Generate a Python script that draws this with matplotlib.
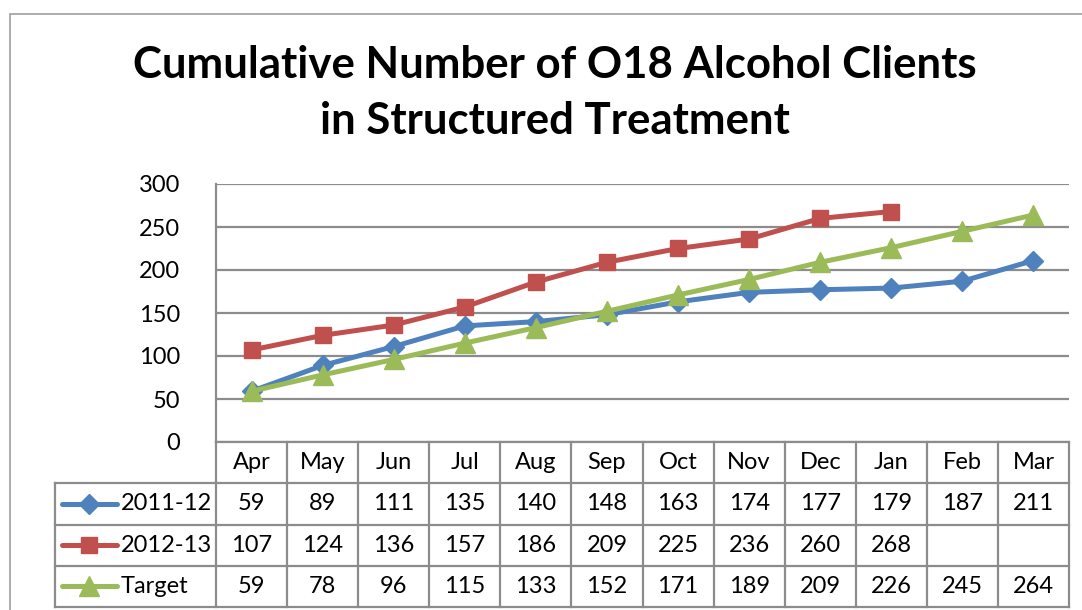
import numpy as np
from matplotlib import pyplot as plt
from matplotlib.patches import Rectangle

plt.rcParams['font.family'] = ['Lato', 'DejaVu Sans']

months = ['Apr', 'May', 'Jun', 'Jul', 'Aug', 'Sep', 'Oct', 'Nov', 'Dec', 'Jan', 'Feb', 'Mar']
series_names = ['2011-12', '2012-13', 'Target']
clients_2011 = [59, 89, 111, 135, 140, 148, 163, 174, 177, 179, 187, 211]
clients_2012 = [107, 124, 136, 157, 186, 209, 225, 236, 260, 268, None, None]
target = [59, 78, 96, 115, 133, 152, 171, 189, 209, 226, 245, 264]

colors = ['#4F81BD', '#C0504D', '#9BBB59']
markers = ['D', 's', '^']
msizes = [10, 12, 14]
grid_col = '#8c8c8c'

W, H = 1082, 610
fig = plt.figure(figsize=(W / 100, H / 100), dpi=100)

# outer chart frame (runs off the right / bottom edge like the screenshot)
fig.add_artist(Rectangle((10 / W, -0.1), 1.2, 1 - 14 / H + 0.1, transform=fig.transFigure,
                         fill=False, ec='#a6a6a6', lw=1.3))

fig.text(555 / W, 1 - 45 / H, 'Cumulative Number of O18 Alcohol Clients\nin Structured Treatment',
         ha='center', va='top', fontsize=31.5, fontweight='bold', linespacing=1.5)

# plot area
ax = fig.add_axes([216 / W, 1 - 442 / H, (1069 - 216) / W, (442 - 184) / H])
x = np.arange(len(months))
all_series = [clients_2011, clients_2012, target]
for vals, c, m, ms in zip(all_series, colors, markers, msizes):
    y = np.array([np.nan if v is None else v for v in vals], dtype=float)
    ax.plot(x, y, color=c, lw=3.6, marker=m, ms=ms, mfc=c, mec=c, zorder=3)

ax.set_xlim(-0.5, len(months) - 0.5)
ax.set_ylim(0, 300)
ax.set_yticks(range(0, 301, 50))
ax.set_xticks([])
ax.yaxis.grid(True, color=grid_col, lw=1.6)
ax.set_axisbelow(True)
for s in ['top', 'right']:
    ax.spines[s].set_visible(False)
for s in ['left', 'bottom']:
    ax.spines[s].set_color(grid_col)
    ax.spines[s].set_linewidth(1.6)
ax.tick_params(axis='y', length=0, pad=26, labelsize=17)

# data table under the plot
tax = fig.add_axes([216 / W, 1 - 607 / H, (1069 - 216) / W, (607 - 442) / H])
tax.set_xlim(-0.5, len(months) - 0.5)
tax.set_ylim(4, 0)
tax.axis('off')
left = -0.5 - (216 - 55) / ((1069 - 216) / len(months))
kw = dict(color=grid_col, lw=1.6, clip_on=False)
for r in range(1, 5):
    tax.plot([left, len(months) - 0.5], [r, r], **kw)
for k in range(len(months) + 1):
    tax.plot([k - 0.5, k - 0.5], [0, 4], **kw)
tax.plot([left, left], [1, 4], **kw)

for k, mth in enumerate(months):
    tax.text(k, 0.5, mth, ha='center', va='center', fontsize=17)
for r, (name, vals, c, m, ms) in enumerate(zip(series_names, all_series, colors, markers, msizes)):
    yc = r + 1.5
    tax.plot([left + 0.1, left + 0.87], [yc, yc], color=c, lw=3.6, solid_capstyle='round', clip_on=False)
    tax.plot([left + 0.485], [yc], marker=m, ms=ms, color=c, clip_on=False)
    tax.text(left + 0.92, yc, name, ha='left', va='center', fontsize=17)
    for k, v in enumerate(vals):
        if v is not None:
            tax.text(k, yc, str(v), ha='center', va='center', fontsize=17)

fig.savefig('out.png', dpi=100)
